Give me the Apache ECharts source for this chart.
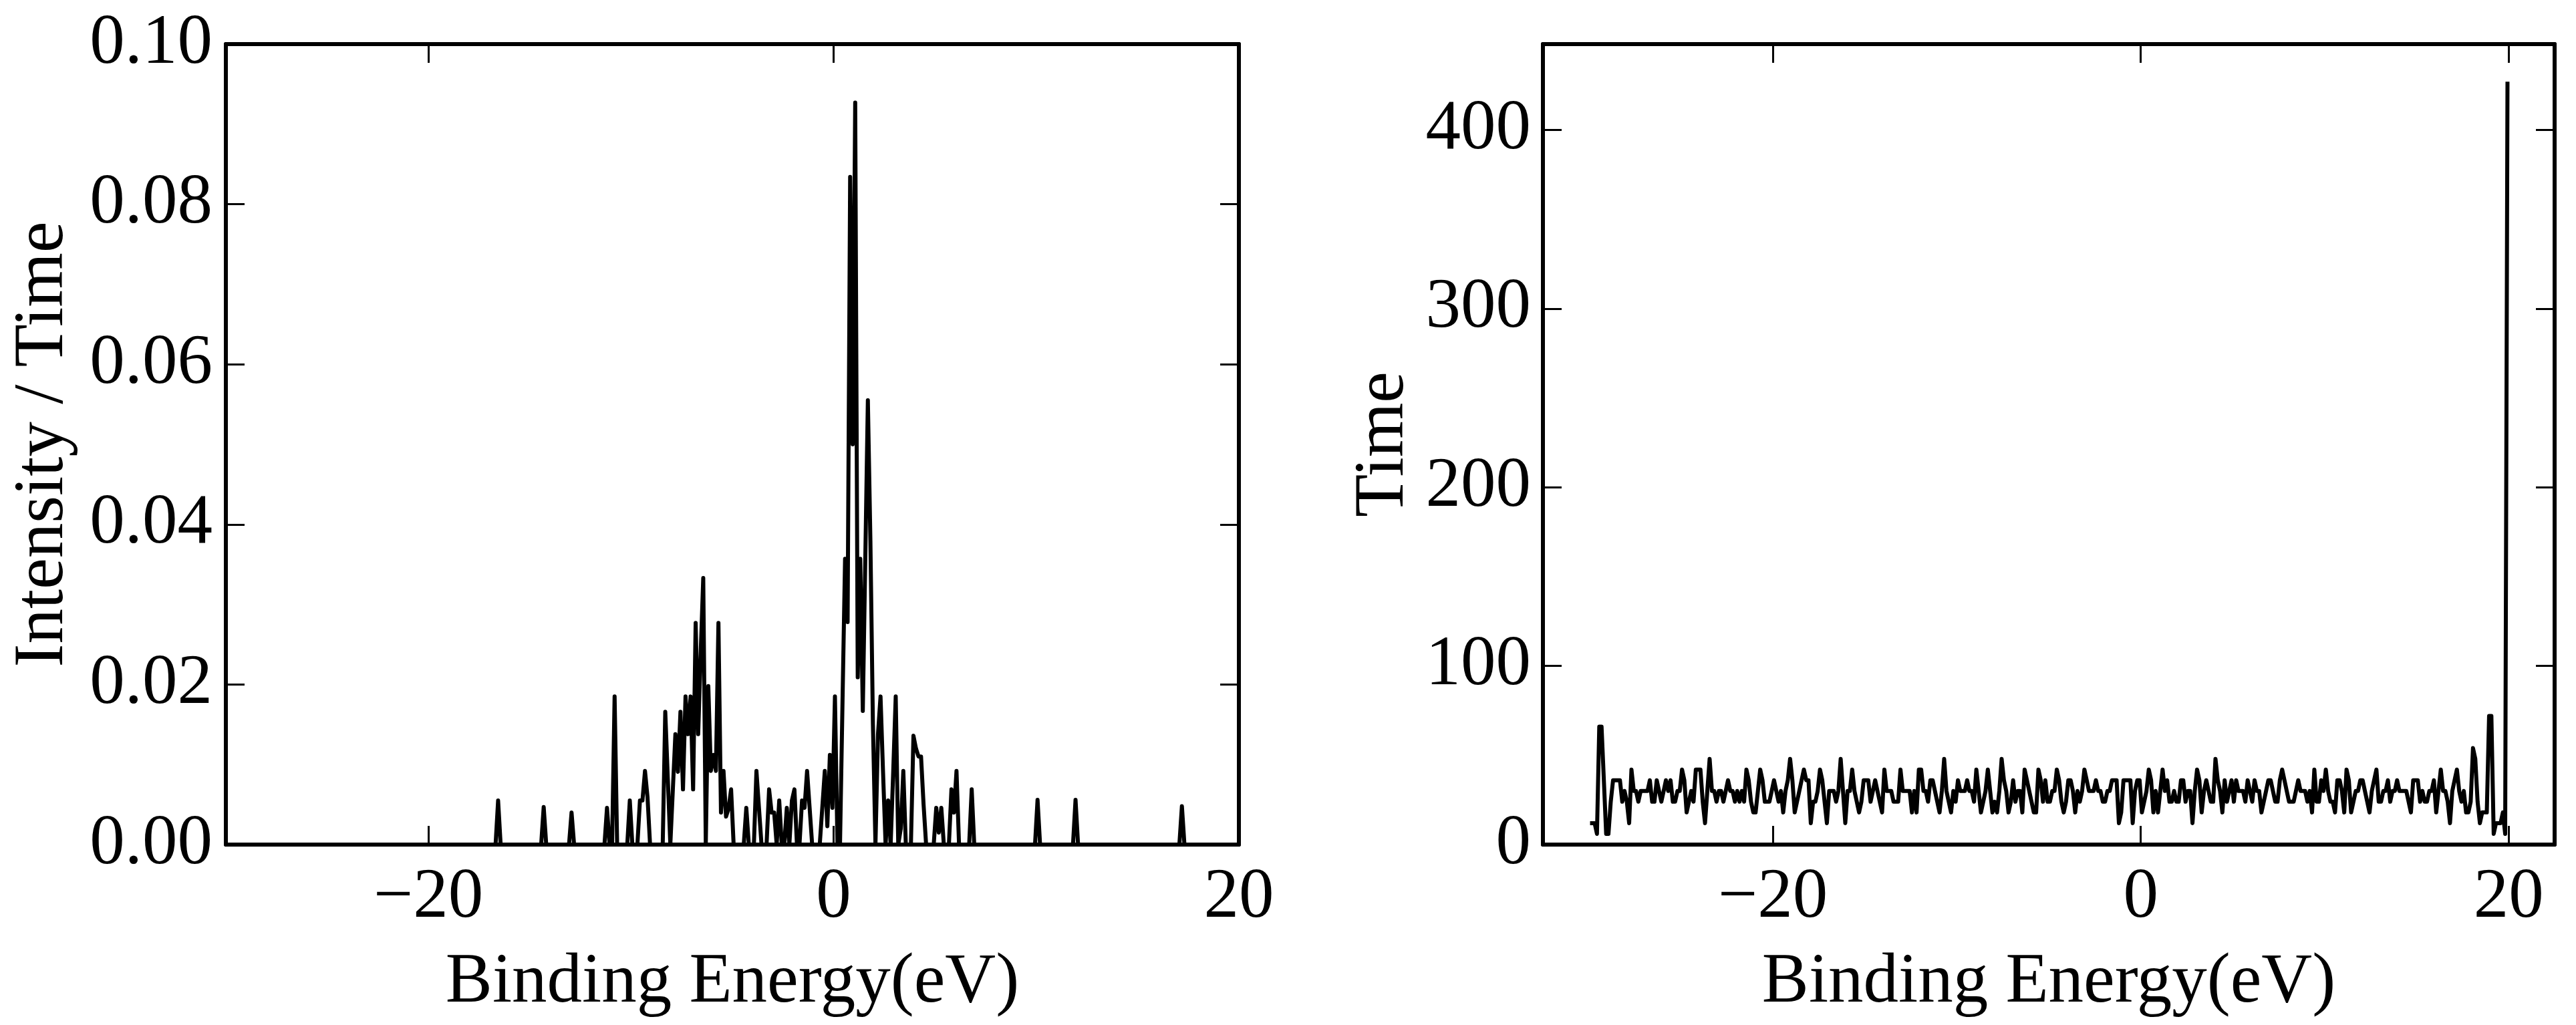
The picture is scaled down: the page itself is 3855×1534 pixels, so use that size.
<!DOCTYPE html>
<html><head><meta charset="utf-8">
<script src="https://cdn.jsdelivr.net/npm/echarts@6/dist/echarts.min.js"></script>
<style>html,body{margin:0;padding:0;background:#fff}#c{width:3855px;height:1534px}</style>
</head><body><div id="c"></div>
<script>
// Energy grid: bin centres, 0.125 eV wide, from -30 to 20 eV
const ENERGY_START = -29.9375;
const ENERGY_STEP = 0.125;
const N_POINTS = 400;
const energy = Array.from({length: N_POINTS}, (_, i) => ENERGY_START + ENERGY_STEP * i);

// Left panel: Intensity / Time
const intensityPerTime = [
0,0,0,0,0,0,0,0,0,0,0,0,0,0,0,0,0,0,0,0,
0,0,0,0,0,0,0,0,0,0,0,0,0,0,0,0,0,0,0,0,
0,0,0,0,0,0,0,0,0,0,0,0,0,0,0,0,0,0,0,0,
0,0,0,0,0,0,0,0,0,0,0,0,0,0,0,0,0,0,0,0,
0,0,0,0,0,0,0,0,0,0,0,0,0,0,0,0,0,0,0,0,
0,0,0,0,0,0,0,0.0055,0,0,0,0,0,0,0,0,0,0,0,0,
0,0,0,0,0,0.0047,0,0,0,0,0,0,0,0,0,0,0.0040,0,0,0,
0,0,0,0,0,0,0,0,0,0,0.0046,0,0,0.0185,0,0,0,0,0,0.0055,
0,0,0,0.0055,0.0055,0.0092,0.0059,0,0,0,0,0,0,0.0166,0.0083,0,0.0069,0.0138,0.0091,0.0166,
0.0069,0.0185,0.0138,0.0185,0.0069,0.0277,0.0138,0.024,0.0333,0,0.0198,0.0092,0.0112,0.0092,0.0277,0.004,0.0092,0.0035,0.0045,0.0069,
0,0,0,0,0,0.0046,0,0,0,0.0092,0.0046,0,0,0,0.0069,0.004,0.004,0,0.0055,0,
0,0.0046,0,0.0055,0.0069,0,0,0.0055,0.0046,0.0092,0.0046,0,0,0,0,0.0046,0.0092,0.0023,0.0112,0.0046,
0.0185,0,0,0.018,0.0357,0.0278,0.0834,0.050,0.0927,0.0209,0.0357,0.0167,0.036,0.0555,0.038,0.015,0,0.0138,0.0185,0.009,
0,0.0055,0,0.009,0.0185,0,0.002,0.0092,0,0,0,0.0136,0.012,0.011,0.011,0.005,0,0,0,0,
0.0046,0.0015,0.0046,0,0,0,0.0069,0.004,0.0092,0,0,0,0,0,0.0069,0,0,0,0,0,
0,0,0,0,0,0,0,0,0,0,0,0,0,0,0,0,0,0,0,0,
0.0056,0,0,0,0,0,0,0,0,0,0,0,0,0,0,0.0056,0,0,0,0,
0,0,0,0,0,0,0,0,0,0,0,0,0,0,0,0,0,0,0,0,
0,0,0,0,0,0,0,0,0,0,0,0,0,0,0,0,0,0.0048,0,0,
0,0,0,0,0,0,0,0,0,0,0,0,0,0,0,0,0,0,0,0
];

// Right panel: Time
const timeCounts = [
12,12,12,6,66,66,36,6,6,24,36,36,36,36,24,30,24,12,42,30,
30,24,30,30,30,30,36,24,24,36,30,24,30,36,30,36,24,24,30,30,
42,36,18,24,30,24,42,42,42,24,12,30,48,30,30,24,30,30,24,30,
36,30,30,24,30,24,30,24,42,36,24,18,18,30,42,36,24,24,24,30,
36,30,24,30,18,30,36,48,36,18,24,30,36,42,36,36,12,24,24,30,
42,36,24,12,30,30,30,24,30,48,30,12,30,30,42,30,24,18,24,36,
36,36,24,30,36,30,24,18,42,30,30,30,24,24,24,42,30,30,30,30,
18,30,18,42,42,30,30,24,36,36,30,24,18,30,48,30,24,18,30,24,
36,30,30,30,36,30,30,24,42,30,18,24,30,42,30,18,24,18,30,48,
36,30,18,24,36,24,30,30,18,42,36,30,24,18,18,42,36,24,36,24,
24,30,30,42,36,24,18,24,36,36,30,18,30,24,30,42,36,30,30,30,
36,30,30,24,24,30,30,36,36,36,12,18,36,36,36,36,12,30,36,36,
18,24,30,42,36,18,30,18,30,42,30,36,24,24,30,24,24,36,36,24,
30,30,12,30,42,36,18,30,36,30,24,24,48,36,30,18,36,24,30,36,
24,36,30,30,30,24,36,30,24,36,30,30,18,24,30,36,36,30,24,24,
36,42,36,30,24,24,24,30,36,30,30,30,24,30,18,42,24,24,36,30,
42,30,24,24,18,36,36,30,18,42,36,18,24,30,30,36,36,30,24,18,
30,36,42,24,24,30,30,36,24,30,30,36,30,30,30,30,24,18,36,36,
36,24,30,24,24,30,30,36,18,30,42,30,30,24,12,30,36,42,30,24,
30,18,18,24,54,48,24,12,18,18,18,72,72,6,12,12,12,18,6,427
];

const xTickValues = [-20, 0, 20];
const leftYTickValues = [0, 0.02, 0.04, 0.06, 0.08, 0.10];
const rightYTickValues = [0, 100, 200, 300, 400];

const FONT = 'Liberation Serif';
const FS = 105;
const FRAME_W = 6;
const TICK_LEN = 28;
const TICK_W = 3;
const LINE_W = 6;

function minusFmt(v) { return String(v).replace('-', '\u2212'); }

function xAx(grid, min, max, pos, withLabels) {
  return {
    type: 'value', gridIndex: grid, min: min, max: max, position: pos,
    axisLine: {show: true, onZero: false, lineStyle: {color: '#000', width: FRAME_W}},
    axisTick: {show: true, inside: true, length: TICK_LEN, customValues: xTickValues,
               lineStyle: {color: '#000', width: TICK_W}},
    axisLabel: {show: withLabels, customValues: xTickValues, formatter: minusFmt,
                fontFamily: FONT, fontSize: FS, color: '#000', margin: 28},
    splitLine: {show: false},
    name: withLabels ? 'Binding Energy(eV)' : '',
    nameLocation: 'middle', nameGap: 155,
    nameTextStyle: {fontFamily: FONT, fontSize: FS, color: '#000'}
  };
}
function yAx(grid, min, max, pos, ticks, fmt, withLabels, name, gap, margin) {
  return {
    type: 'value', gridIndex: grid, min: min, max: max, position: pos,
    axisLine: {show: true, onZero: false, lineStyle: {color: '#000', width: FRAME_W}},
    axisTick: {show: true, inside: true, length: TICK_LEN, customValues: ticks,
               lineStyle: {color: '#000', width: TICK_W}},
    axisLabel: {show: withLabels, customValues: ticks, formatter: fmt,
                fontFamily: FONT, fontSize: FS, color: '#000', margin: margin},
    splitLine: {show: false},
    name: withLabels ? name : '',
    nameLocation: 'middle', nameGap: gap,
    nameTextStyle: {fontFamily: FONT, fontSize: FS, color: '#000'}
  };
}

const chart = echarts.init(document.getElementById('c'), null, {renderer: 'canvas'});
chart.setOption({
  animation: false,
  backgroundColor: '#fff',
  grid: [
    {left: 338, top: 66, width: 1516, height: 1198},
    {left: 2309, top: 66, width: 1514, height: 1198}
  ],
  xAxis: [
    xAx(0, -30, 20, 'bottom', true),
    xAx(0, -30, 20, 'top', false),
    xAx(1, -32.5, 22.5, 'bottom', true),
    xAx(1, -32.5, 22.5, 'top', false)
  ],
  yAxis: [
    yAx(0, 0, 0.1, 'left', leftYTickValues, v => v.toFixed(2), true, 'Intensity / Time', 220, 20),
    yAx(0, 0, 0.1, 'right', leftYTickValues, v => v.toFixed(2), false, '', 0, 0),
    yAx(1, 0, 448, 'left', rightYTickValues, v => String(v), true, 'Time', 185, 18),
    yAx(1, 0, 448, 'right', rightYTickValues, v => String(v), false, '', 0, 0)
  ],
  series: [
    {type: 'line', xAxisIndex: 0, yAxisIndex: 0, showSymbol: false, symbol: 'none', silent: true,
     lineStyle: {color: '#000', width: LINE_W, join: 'round'},
     data: energy.map((x, i) => [x, intensityPerTime[i]])},
    {type: 'line', xAxisIndex: 2, yAxisIndex: 2, showSymbol: false, symbol: 'none', silent: true,
     lineStyle: {color: '#000', width: LINE_W, join: 'round'},
     data: energy.map((x, i) => [x, timeCounts[i]])}
  ]
});
</script></body></html>
